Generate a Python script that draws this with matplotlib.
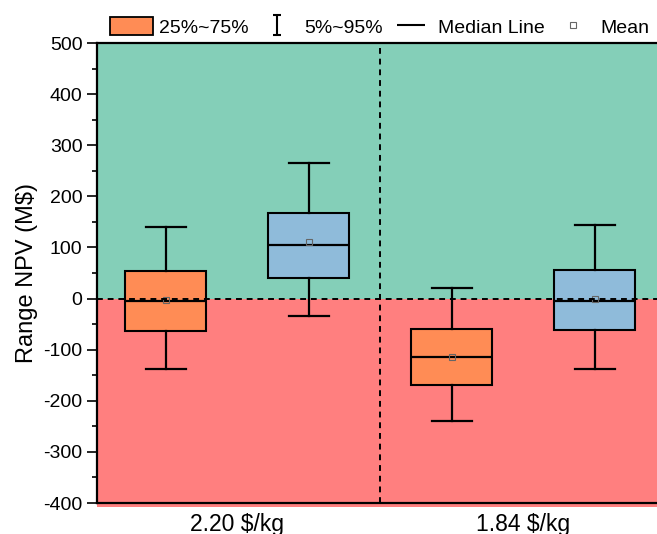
import numpy as np
import matplotlib.pyplot as plt
from matplotlib.patches import Patch
from matplotlib.lines import Line2D
from matplotlib.path import Path
from matplotlib.ticker import MultipleLocator

plt.rcParams['font.family'] = ['Liberation Sans', 'DejaVu Sans']
plt.rcParams['axes.unicode_minus'] = False

# box statistics (M$)
positions = [1, 2, 3, 4]
p5 = [-137, -35, -240, -137]
q1 = [-63, 41, -170, -62]
median = [-4, 104, -115, -5]
q3 = [53, 168, -60, 55]
p95 = [140, 265, 20, 144]
mean = [-3, 110, -114, 0]
box_colors = ['#FF8C55', '#8FBBDA', '#FF8C55', '#8FBBDA']

group_labels = ['2.20 $/kg', '1.84 $/kg']
group_label_pos = [1.5, 3.5]

green = '#84CFB8'
red = '#FF7F7F'

fig = plt.figure(figsize=(6.57, 5.34), dpi=100)
ax = fig.add_axes([97 / 657, 1 - 503 / 534, 569 / 657, 460 / 534])

ax.set_xlim(0.52, 4.5)
ax.set_ylim(-400, 500)

ax.axhspan(0, 500, color=green, zorder=0, lw=0)
low = ax.axhspan(-407, 0, color=red, zorder=0, lw=0)
low.set_clip_on(False)

stats = []
for i in range(len(positions)):
    stats.append(dict(whislo=p5[i], q1=q1[i], med=median[i], q3=q3[i],
                      whishi=p95[i], mean=mean[i], fliers=[]))

bp = ax.bxp(stats, positions=positions, widths=0.57, capwidths=0.28,
            patch_artist=True, showmeans=True, manage_ticks=False,
            boxprops=dict(edgecolor='black', linewidth=1.5),
            whiskerprops=dict(color='black', linewidth=1.6),
            capprops=dict(color='black', linewidth=1.6),
            medianprops=dict(color='black', linewidth=1.6),
            meanprops=dict(marker='s', markersize=4, markerfacecolor='none',
                           markeredgecolor='#666666', markeredgewidth=0.8))
for patch, c in zip(bp['boxes'], box_colors):
    patch.set_facecolor(c)

ax.axhline(0, color='black', ls=(0, (3, 2.5)), lw=1.4, zorder=3)
ax.axvline(2.5, color='black', ls=(0, (3, 2.5)), lw=1.4, zorder=3)

ax.set_xticks(group_label_pos)
ax.set_xticklabels(group_labels, fontsize=16.5)
ax.tick_params(axis='x', length=0, pad=7)

ax.yaxis.set_major_locator(MultipleLocator(100))
ax.yaxis.set_minor_locator(MultipleLocator(50))
ax.tick_params(axis='y', which='major', direction='out', length=7, width=1.2, labelsize=14)
ax.tick_params(axis='y', which='minor', direction='out', length=3.8, width=1.2)
ax.set_ylabel('Range NPV (M$)', fontsize=17, labelpad=4)

for s in ax.spines.values():
    s.set_linewidth(1.6)

ibeam = Path([(-0.4, 1), (0.4, 1), (0, 1), (0, -1), (-0.4, -1), (0.4, -1)],
             [Path.MOVETO, Path.LINETO, Path.MOVETO, Path.LINETO, Path.MOVETO, Path.LINETO])
handles = [
    Patch(facecolor='#FF8C55', edgecolor='black', linewidth=1.3),
    Line2D([], [], ls='none', marker=ibeam, markersize=14.5, markeredgewidth=1.5,
           color='black'),
    Line2D([], [], ls='none', marker='_', markersize=20, markeredgewidth=1.5,
           color='black'),
    Line2D([], [], ls='none', marker='s', markersize=4, markerfacecolor='none',
           markeredgecolor='#666666', markeredgewidth=0.8),
]
labels = ['25%~75%', '5%~95%', 'Median Line', 'Mean']
fig.legend(handles, labels, loc='center', bbox_to_anchor=(0.578, 0.949), ncol=4,
           frameon=False, fontsize=14, handlelength=2.2, handleheight=1.05,
           handletextpad=0.3, columnspacing=0.35, borderpad=0, borderaxespad=0)

fig.savefig('out.png', dpi=100)
